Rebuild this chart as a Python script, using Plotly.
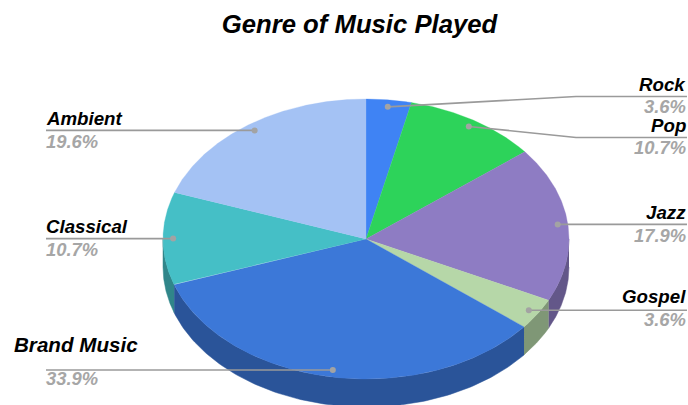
import numpy as np
import plotly.graph_objects as go

# Share of music played per genre, clockwise from twelve o'clock
genres = ["Rock", "Pop", "Jazz", "Gospel", "Brand Music", "Classical", "Ambient"]
shares = [3.6, 10.7, 17.9, 3.6, 33.9, 10.7, 19.6]
top_colors = ["#3f83f4", "#2dd35a", "#8e7cc3", "#b6d7a8", "#3c78d8", "#45bfc6", "#a4c2f4"]
side_colors = ["#2c5bab", "#1f933f", "#635789", "#7f9776", "#2a5499", "#30868a", "#7287ab"]

# Pie geometry in page pixels
CX, CY, RX, RY, DEPTH = 366, 239, 203, 140, 28
ANCHOR_R = 0.95

# Label placement: text edge, y of the name, y of the percentage,
# y of the leader's horizontal run
label_x = {"Rock": 688, "Pop": 688, "Jazz": 688, "Gospel": 688,
           "Brand Music": 12, "Classical": 44, "Ambient": 44}
name_y = {"Rock": 84, "Pop": 125, "Jazz": 212, "Gospel": 296,
          "Brand Music": 344.5, "Classical": 226, "Ambient": 118}
value_y = {"Rock": 106, "Pop": 147, "Jazz": 235, "Gospel": 319,
           "Brand Music": 378, "Classical": 249, "Ambient": 141}
run_y = {"Rock": 96.5, "Pop": 137.5}
NAME_SIZE = 18.7
BRAND_NAME_SIZE = 20.6
VALUE_SIZE = 18.4
ELBOW_X = 576
LEADER_LEFT = 46
LEADER_RIGHT = 687


def ellipse(theta, drop=0.0):
    """Point on the pie rim; theta is in radians, clockwise from the top."""
    return CX + RX * np.sin(theta), CY - RY * np.cos(theta) + drop


fractions = np.array(shares) / sum(shares)
edges = np.concatenate([[0.0], np.cumsum(fractions)]) * 2 * np.pi

fig = go.Figure()

# Visible wall: only the front half of the rim has depth
for i, g in enumerate(genres):
    lo = max(edges[i], np.pi / 2)
    hi = min(edges[i + 1], 3 * np.pi / 2)
    if hi <= lo:
        continue
    t = np.linspace(lo, hi, 120)
    x_top, y_top = ellipse(t)
    x_bot, y_bot = ellipse(t[::-1], DEPTH)
    fig.add_trace(go.Scatter(
        x=np.concatenate([x_top, x_bot]), y=np.concatenate([y_top, y_bot]),
        mode="lines", fill="toself", fillcolor=side_colors[i],
        line=dict(width=0.5, color=side_colors[i]), hoverinfo="skip", name=g + " wall"))

# Top face
for i, g in enumerate(genres):
    t = np.linspace(edges[i], edges[i + 1], 160)
    x_rim, y_rim = ellipse(t)
    fig.add_trace(go.Scatter(
        x=np.concatenate([[CX], x_rim, [CX]]), y=np.concatenate([[CY], y_rim, [CY]]),
        mode="lines", fill="toself", fillcolor=top_colors[i],
        line=dict(width=0.3, color=top_colors[i]), hoverinfo="skip", name=g))

# Leaders and labels
for i, g in enumerate(genres):
    mid = (edges[i] + edges[i + 1]) / 2
    ax, ay = CX + ANCHOR_R * RX * np.sin(mid), CY - ANCHOR_R * RY * np.cos(mid)
    on_right = mid < np.pi
    far = LEADER_RIGHT if on_right else LEADER_LEFT
    if g in run_y:
        xs, ys = [ax, ELBOW_X, far], [ay, run_y[g], run_y[g]]
    else:
        xs, ys = [ax, far], [ay, ay]
    fig.add_trace(go.Scatter(x=xs, y=ys, mode="lines",
                             line=dict(color="#9a9a9a", width=1.7), hoverinfo="skip",
                             name=g + " leader"))
    fig.add_trace(go.Scatter(x=[ax], y=[ay], mode="markers",
                             marker=dict(color="#a3a3a3", size=6), hoverinfo="skip",
                             name=g + " anchor"))
    anchor = "right" if on_right else "left"
    fig.add_annotation(x=label_x[g], y=name_y[g], text=g, showarrow=False,
                       xanchor=anchor, yanchor="middle",
                       font=dict(family="Liberation Sans",
                                 size=BRAND_NAME_SIZE if g == "Brand Music" else NAME_SIZE,
                                 color="#000000", weight="bold", style="italic"))
    fig.add_annotation(x=44 if g == "Brand Music" else label_x[g], y=value_y[g],
                       text=f"{shares[i]}%", showarrow=False,
                       xanchor=anchor, yanchor="middle",
                       font=dict(family="Liberation Sans", size=VALUE_SIZE, color="#a6a6a6",
                                 weight="bold", style="italic"))

fig.update_layout(
    width=688, height=405, margin=dict(l=0, r=0, t=0, b=0),
    paper_bgcolor="#ffffff", plot_bgcolor="#ffffff", showlegend=False,
    title=dict(text="Genre of Music Played", x=359.5 / 688, xanchor="center",
               y=1 - 24 / 405, yanchor="middle",
               font=dict(family="Liberation Sans", size=25.7, color="#000000",
                         weight="bold", style="italic")),
    xaxis=dict(range=[0, 688], visible=False, fixedrange=True),
    yaxis=dict(range=[405, 0], visible=False, fixedrange=True),
)

fig.write_html("out.html", config={"displayModeBar": False})
